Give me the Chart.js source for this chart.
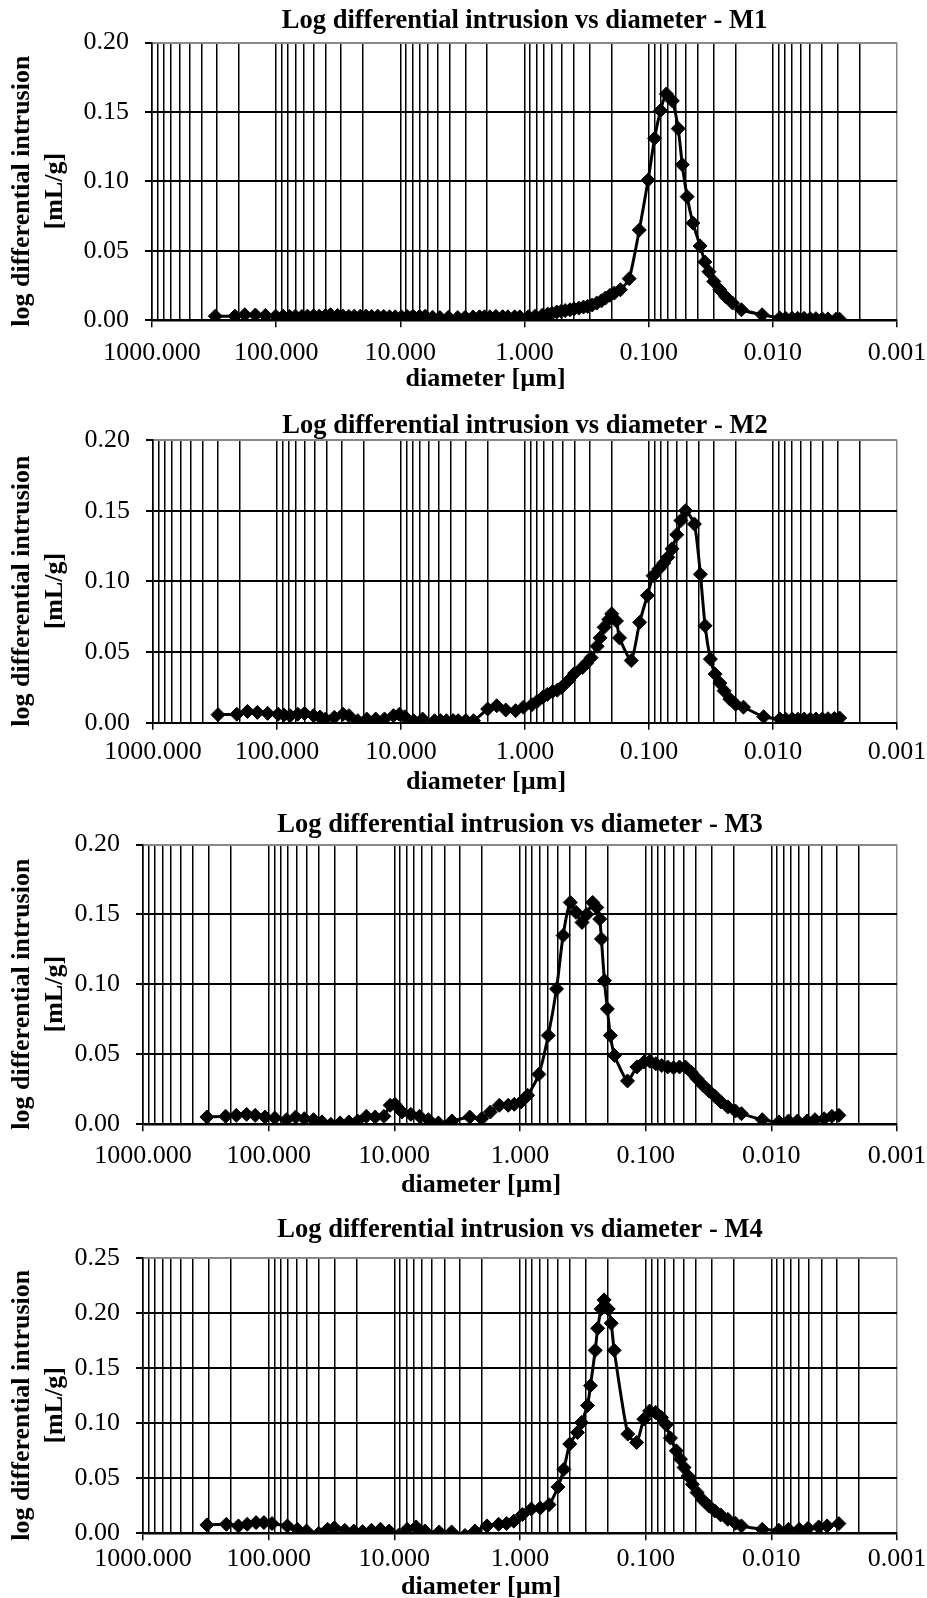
<!DOCTYPE html>
<html>
<head>
<meta charset="utf-8">
<script src="https://cdn.jsdelivr.net/npm/chart.js@4.4.1/dist/chart.umd.min.js"></script>
<style>
  html, body { margin: 0; padding: 0; background: #fff; }
  #wrap { position: relative; width: 927px; height: 1598px; overflow: hidden; }
  #wrap canvas { position: absolute; left: 0; }
</style>
</head>
<body>
<div id="wrap">
  <canvas id="chartM1" width="927" height="400" style="top:0px"></canvas>
  <canvas id="chartM2" width="927" height="400" style="top:400px"></canvas>
  <canvas id="chartM3" width="927" height="400" style="top:800px"></canvas>
  <canvas id="chartM4" width="927" height="400" style="top:1200px"></canvas>
</div>
<script>
// axis ticks
const xDecades = [1000, 100, 10, 1, 0.1, 0.01, 0.001];
const xTickLabels = ['1000.000', '100.000', '10.000', '1.000', '0.100', '0.010', '0.001'];
const yTicksM1 = [0, 0.05, 0.10, 0.15, 0.20];
const yTicksM4 = [0, 0.05, 0.10, 0.15, 0.20, 0.25];

// M1 - diameter [um] / log differential intrusion [mL/g]
const m1Diameter = [309, 215, 179, 147, 122, 101, 88, 78, 70, 62, 56, 50, 45, 40, 36.5, 32, 29, 26, 23.5, 21, 18.9, 17, 15.2, 13.6, 12.2, 11, 9.8, 8.8, 7.9, 7, 6.3, 5.5, 4.8, 4.1, 3.45, 3.0, 2.6, 2.3, 2.1, 1.9, 1.7, 1.5, 1.36, 1.2, 1.09, 0.93, 0.82, 0.72, 0.65, 0.6, 0.55, 0.507, 0.47, 0.43, 0.40, 0.365, 0.335, 0.31, 0.285, 0.262, 0.24, 0.223, 0.205, 0.189, 0.169, 0.1435, 0.119, 0.101, 0.0896, 0.0803, 0.072, 0.0645, 0.0578, 0.0536, 0.049, 0.044, 0.0385, 0.0353, 0.0327, 0.0299, 0.0268, 0.024, 0.0211, 0.0179, 0.0122, 0.0088, 0.0079, 0.0070, 0.0063, 0.0056, 0.0050, 0.0045, 0.0040, 0.0036, 0.0031, 0.0029];
const m1Intrusion = [0.003, 0.003, 0.004, 0.0038, 0.0035, 0.003, 0.003, 0.0028, 0.003, 0.0028, 0.003, 0.0032, 0.003, 0.0035, 0.004, 0.0035, 0.003, 0.0028, 0.003, 0.003, 0.003, 0.0028, 0.003, 0.0028, 0.0025, 0.0025, 0.0025, 0.0027, 0.003, 0.0028, 0.003, 0.0022, 0.002, 0.0022, 0.002, 0.0022, 0.0024, 0.0025, 0.0025, 0.0025, 0.0028, 0.0026, 0.0025, 0.0025, 0.0025, 0.0026, 0.003, 0.0036, 0.0045, 0.005, 0.006, 0.0065, 0.007, 0.0076, 0.0082, 0.0088, 0.0095, 0.010, 0.011, 0.0124, 0.014, 0.016, 0.018, 0.0196, 0.022, 0.030, 0.065, 0.101, 0.131, 0.151, 0.163, 0.158, 0.138, 0.112, 0.089, 0.070, 0.0535, 0.042, 0.035, 0.028, 0.022, 0.017, 0.0124, 0.0076, 0.004, 0.0017, 0.0015, 0.0015, 0.0014, 0.0014, 0.0012, 0.0012, 0.0011, 0.001, 0.0008, 0.0008];

// M2
const m2Diameter = [299, 211, 173, 144, 119, 98, 88, 78.5, 68, 60, 50.7, 45, 40.7, 34.5, 29.3, 26.3, 22.3, 18.9, 16, 13.6, 11.5, 10.3, 9.3, 7.9, 6.7, 5.36, 4.8, 4.3, 3.8, 3.45, 3.0, 2.6, 2.0, 1.69, 1.43, 1.19, 1.03, 0.88, 0.8, 0.72, 0.66, 0.6, 0.55, 0.507, 0.444, 0.398, 0.345, 0.32, 0.293, 0.262, 0.248, 0.230, 0.211, 0.2, 0.183, 0.173, 0.139, 0.119, 0.103, 0.0926, 0.083, 0.076, 0.0705, 0.0652, 0.0597, 0.0553, 0.0507, 0.043, 0.0385, 0.0353, 0.032, 0.0293, 0.0268, 0.0248, 0.0223, 0.02, 0.0173, 0.0119, 0.0088, 0.0079, 0.007, 0.0063, 0.0056, 0.005, 0.0045, 0.004, 0.0036, 0.0032, 0.0029];
const m2Intrusion = [0.0057, 0.006, 0.008, 0.0073, 0.0066, 0.006, 0.0055, 0.005, 0.006, 0.0066, 0.005, 0.004, 0.0026, 0.0038, 0.006, 0.005, 0.0014, 0.0026, 0.0026, 0.0026, 0.005, 0.006, 0.0042, 0.0014, 0.0026, 0.0014, 0.0015, 0.0014, 0.0015, 0.0014, 0.0015, 0.0014, 0.0097, 0.012, 0.009, 0.0085, 0.011, 0.0127, 0.015, 0.018, 0.020, 0.022, 0.023, 0.025, 0.030, 0.035, 0.039, 0.042, 0.046, 0.054, 0.060, 0.0675, 0.073, 0.077, 0.072, 0.060, 0.044, 0.071, 0.090, 0.104, 0.109, 0.113, 0.117, 0.123, 0.133, 0.143, 0.150, 0.1405, 0.105, 0.0686, 0.045, 0.0344, 0.028, 0.0226, 0.0167, 0.013, 0.011, 0.0042, 0.0026, 0.0025, 0.0026, 0.0025, 0.0026, 0.0025, 0.0026, 0.0027, 0.0028, 0.003, 0.0033];

// M3
const m3Diameter = [310, 220, 181, 150, 128, 107, 89.5, 72, 61, 52, 44, 37.6, 32, 27, 23, 19.6, 16.7, 14.2, 12.1, 10.8, 9.9, 8.7, 7.4, 6.3, 5.36, 4.46, 3.48, 2.51, 2.02, 1.72, 1.46, 1.24, 1.11, 0.98, 0.87, 0.708, 0.596, 0.512, 0.454, 0.398, 0.358, 0.321, 0.294, 0.264, 0.245, 0.232, 0.225, 0.213, 0.2018, 0.191, 0.177, 0.1395, 0.1175, 0.103, 0.0925, 0.083, 0.0745, 0.0668, 0.06, 0.0538, 0.0483, 0.0434, 0.039, 0.0349, 0.0313, 0.0281, 0.0252, 0.0222, 0.0193, 0.0173, 0.0118, 0.0087, 0.0073, 0.0062, 0.0052, 0.0045, 0.0038, 0.0033, 0.0029];
const m3Intrusion = [0.0052, 0.0057, 0.0064, 0.0071, 0.0064, 0.0052, 0.0045, 0.0033, 0.0052, 0.004, 0.0033, 0.0017, 0.0, 0.001, 0.0017, 0.0024, 0.0057, 0.0052, 0.0057, 0.0136, 0.0143, 0.0088, 0.0071, 0.0057, 0.0033, 0.001, 0.0024, 0.0052, 0.004, 0.0088, 0.0136, 0.0136, 0.0143, 0.016, 0.0207, 0.0357, 0.0635, 0.0968, 0.135, 0.1586, 0.1515, 0.1443, 0.150, 0.1586, 0.155, 0.1467, 0.1325, 0.1027, 0.0825, 0.0635, 0.0492, 0.031, 0.041, 0.0445, 0.045, 0.0433, 0.042, 0.041, 0.0404, 0.041, 0.041, 0.0373, 0.0326, 0.0278, 0.0238, 0.020, 0.016, 0.0124, 0.0095, 0.0076, 0.0033, 0.0017, 0.0024, 0.0024, 0.0024, 0.0033, 0.004, 0.0057, 0.0064];

// M4
const m4Diameter = [310, 217, 174, 148, 126, 109, 94, 71, 59, 50, 40, 34, 30, 24.8, 21, 17.9, 15.2, 12.9, 11, 9.3, 7.9, 6.7, 5.7, 4.4, 3.5, 2.74, 2.28, 1.83, 1.48, 1.28, 1.12, 0.957, 0.813, 0.69, 0.587, 0.499, 0.448, 0.402, 0.349, 0.324, 0.29, 0.275, 0.252, 0.241, 0.226, 0.214, 0.1986, 0.188, 0.178, 0.1387, 0.118, 0.1035, 0.093, 0.0834, 0.0748, 0.0686, 0.0635, 0.057, 0.0528, 0.0495, 0.0459, 0.0425, 0.039, 0.035, 0.0314, 0.0282, 0.0253, 0.0222, 0.0193, 0.0173, 0.0118, 0.0087, 0.0073, 0.006, 0.0051, 0.0042, 0.0036, 0.0029];
const m4Intrusion = [0.0076, 0.0082, 0.0067, 0.0082, 0.0097, 0.0097, 0.0088, 0.0067, 0.0036, 0.0021, 0.0, 0.0036, 0.005, 0.0027, 0.0021, 0.0015, 0.0027, 0.0036, 0.0021, -0.002, 0.0036, 0.0058, 0.0021, 0.0012, 0.0012, -0.002, 0.0021, 0.0067, 0.0082, 0.0088, 0.011, 0.017, 0.022, 0.023, 0.026, 0.042, 0.058, 0.081, 0.0915, 0.1006, 0.116, 0.134, 0.166, 0.186, 0.2036, 0.2118, 0.2036, 0.1906, 0.166, 0.090, 0.0824, 0.1036, 0.111, 0.1097, 0.105, 0.0985, 0.0864, 0.0748, 0.0673, 0.0597, 0.052, 0.0445, 0.037, 0.030, 0.0248, 0.0203, 0.0167, 0.0127, 0.0091, 0.0067, 0.0036, 0.0027, 0.0036, 0.0036, 0.0045, 0.0058, 0.0067, 0.0088];

Chart.defaults.font.family = '"Liberation Serif", "Times New Roman", serif';
Chart.defaults.color = '#000';

// vertical grid: 1..9 x every decade
const gridValues = [];
[0.001, 0.01, 0.1, 1, 10, 100].forEach(d => {
    for (let k = 1; k <= 9; k++) gridValues.push(+(k * d).toPrecision(6));
});
gridValues.push(1000);

function decadeIndex(v) {
    return xDecades.findIndex(d => Math.abs(d - v) / d < 1e-6);
}

function drawChart(id, title, diam, vals, yTicks, box) {
    const yMax = yTicks[yTicks.length - 1];
    return new Chart(document.getElementById(id), {
        type: 'scatter',
        data: {
            datasets: [{
                data: diam.map((d, i) => ({ x: d, y: vals[i] })),
                showLine: true,
                borderColor: '#000',
                borderWidth: 3,
                tension: 0.2,
                pointStyle: 'rectRot',
                pointRadius: 7,
                pointBackgroundColor: '#000',
                pointBorderColor: '#000',
                pointBorderWidth: 1
            }]
        },
        options: {
            responsive: false,
            animation: false,
            layout: { padding: { left: 0, right: 30, top: 0, bottom: 0 } },
            plugins: {
                legend: { display: false },
                tooltip: { enabled: false },
                title: {
                    display: true,
                    fullSize: false,
                    text: title,
                    color: '#000',
                    font: { size: 26.5, weight: 'bold', lineHeight: 1 },
                    padding: { top: box.titleTop, bottom: box.titleBottom }
                }
            },
            scales: {
                x: {
                    type: 'logarithmic',
                    reverse: true,
                    min: 0.001,
                    max: 1000,
                    afterBuildTicks: s => { s.ticks = gridValues.map(v => ({ value: v })); },
                    afterFit: s => { s.height = box.xHeight; s.paddingLeft = 0; s.paddingRight = 0; },
                    ticks: {
                        autoSkip: false,
                        maxRotation: 0,
                        minRotation: 0,
                        padding: box.xTickPad,
                        font: { size: 26 },
                        callback: v => {
                            const i = decadeIndex(v);
                            return i >= 0 ? xTickLabels[i] : '';
                        }
                    },
                    grid: {
                        color: ctx => (ctx.tick && Math.abs(ctx.tick.value - 0.001) < 1e-9) ? '#888' : '#000',
                        lineWidth: 1.5,
                        tickLength: 7,
                        tickWidth: 1.5,
                        tickColor: ctx => (ctx.tick && decadeIndex(ctx.tick.value) >= 0) ? '#000' : 'rgba(0,0,0,0)'
                    },
                    border: { color: '#000', width: 1.5 },
                    title: {
                        display: true,
                        // trailing spaces pull the label left, where the original sits
                        text: 'diameter [µm]            ',
                        font: { size: 26, weight: 'bold', lineHeight: 1 },
                        padding: { top: 0, bottom: box.xTitlePad }
                    }
                },
                y: {
                    min: 0,
                    max: yMax,
                    afterBuildTicks: s => { s.ticks = yTicks.map(v => ({ value: v })); },
                    afterFit: s => { s.width = box.left; s.paddingTop = 0; s.paddingBottom = 0; },
                    ticks: {
                        padding: 16,
                        font: { size: 26 },
                        callback: v => v.toFixed(2)
                    },
                    grid: {
                        color: ctx => (ctx.tick && ctx.tick.value >= yMax - 1e-9) ? '#888' : '#000',
                        lineWidth: 2,
                        tickLength: 7,
                        tickColor: '#000'
                    },
                    border: { color: '#000', width: 1.5 },
                    title: {
                        display: true,
                        text: ['log differential intrusion   ', '[mL/g]   '],
                        font: { size: 26, weight: 'bold', lineHeight: 1.3 },
                        padding: { top: 5, bottom: 0 }
                    }
                }
            }
        }
    });
}

drawChart('chartM1', 'Log differential intrusion vs diameter - M1', m1Diameter, m1Intrusion, yTicksM1,
    { left: 152, titleTop: 8.3, titleBottom: 7.7, xHeight: 79.7, xTickPad: 10.4, xTitlePad: 8 });
drawChart('chartM2', 'Log differential intrusion vs diameter - M2', m2Diameter, m2Intrusion, yTicksM1,
    { left: 153, titleTop: 13.3, titleBottom: 0.2, xHeight: 77.3, xTickPad: 6.4, xTitlePad: 4.3 });
drawChart('chartM3', 'Log differential intrusion vs diameter - M3', m3Diameter, m3Intrusion, yTicksM1,
    { left: 143, titleTop: 12, titleBottom: 6, xHeight: 75.7, xTickPad: 9.4, xTitlePad: 2 });
drawChart('chartM4', 'Log differential intrusion vs diameter - M4', m4Diameter, m4Intrusion, yTicksM4,
    { left: 143, titleTop: 16.6, titleBottom: 14.7, xHeight: 66.7, xTickPad: 3.4, xTitlePad: 0 });
</script>
</body>
</html>
